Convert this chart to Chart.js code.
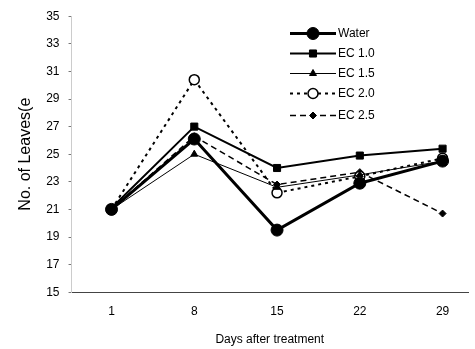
<!DOCTYPE html>
<html>
<head>
<meta charset="utf-8">
<script src="https://cdn.jsdelivr.net/npm/chart.js@4"></script>
<style>
  html, body { margin: 0; padding: 0; background: #fff; }
  #wrap { width: 475px; height: 349px; position: relative; }
</style>
</head>
<body>
<div id="wrap"><canvas id="leafChart"></canvas></div>
<script>
// Data
const days = [1, 8, 15, 22, 29];
const yTicks = [15, 17, 19, 21, 23, 25, 27, 29, 31, 33, 35];
const water = [21.0, 26.1, 19.5, 22.9, 24.5];
const ec10 = [21.1, 27.0, 24.0, 24.9, 25.4];
const ec15 = [21.0, 25.0, 22.6, 23.5, 24.5];
const ec20 = [21.0, 30.4, 22.2, 23.4, 24.7];
const ec25 = [21.0, 26.3, 22.8, 23.7, 20.7];

function toPoints(arr) {
  return arr.map((v, i) => ({ x: days[i], y: v }));
}

const datasets = [
  { label: "Water", data: toPoints(water), borderColor: "#000", backgroundColor: "#000",
    borderWidth: 3, pointStyle: "circle", pointRadius: 6, pointBorderWidth: 1 },
  { label: "EC 1.0", data: toPoints(ec10), borderColor: "#000", backgroundColor: "#000",
    borderWidth: 2, pointStyle: "rect", pointRadius: 5, pointBorderWidth: 1 },
  { label: "EC 1.5", data: toPoints(ec15), borderColor: "#000", backgroundColor: "#000",
    borderWidth: 1, pointStyle: "triangle", pointRadius: 4, pointBorderWidth: 1 },
  { label: "EC 2.0", data: toPoints(ec20), borderColor: "#000", backgroundColor: "#fff",
    borderWidth: 2, borderDash: [3, 4], pointStyle: "circle", pointRadius: 5, pointBorderWidth: 1.5 },
  { label: "EC 2.5", data: toPoints(ec25), borderColor: "#000", backgroundColor: "#000",
    borderWidth: 1.5, borderDash: [6, 4], pointStyle: "rectRot", pointRadius: 3.5, pointBorderWidth: 1 },
];

// legend drawn as line + marker samples, like the original figure
const lineLegend = {
  id: "lineLegend",
  afterDraw(chart) {
    const ctx = chart.ctx;
    const x0 = 290, x1 = 336, ys = [33, 53, 73, 93, 115];
    chart.data.datasets.forEach((ds, i) => {
      const y = ys[i] + 0.5;
      ctx.save();
      ctx.strokeStyle = "#000";
      ctx.lineWidth = ds.borderWidth;
      ctx.setLineDash(ds.borderDash || []);
      ctx.beginPath();
      ctx.moveTo(x0, y);
      ctx.lineTo(x1, y);
      ctx.stroke();
      ctx.setLineDash([]);
      ctx.fillStyle = ds.backgroundColor;
      ctx.lineWidth = ds.pointBorderWidth;
      Chart.helpers.drawPoint(ctx, {
        pointStyle: ds.pointStyle,
        radius: ds.pointRadius,
        borderWidth: ds.pointBorderWidth,
        rotation: 0,
      }, (x0 + x1) / 2, y);
      ctx.fillStyle = "#000";
      ctx.font = "12px 'Liberation Sans', Arial, sans-serif";
      ctx.textBaseline = "middle";
      ctx.fillText(ds.label, x1 + 2, y);
      ctx.restore();
    });
  },
};

const fontFam = "'Liberation Sans', Arial, sans-serif";

new Chart(document.getElementById("leafChart"), {
  type: "line",
  data: { datasets: datasets },
  options: {
    responsive: true,
    maintainAspectRatio: false,
    animation: false,
    layout: { padding: { top: 11, right: 0, left: 12, bottom: 2 } },
    plugins: { legend: { display: false }, tooltip: { enabled: false } },
    scales: {
      x: {
        type: "linear",
        min: -2.38,
        max: 31.15,
        afterBuildTicks: (axis) => { axis.ticks = days.map((d) => ({ value: d })); },
        grid: { display: false, drawTicks: false },
        border: { color: "#444", width: 1, dash: [14, 4] },
        ticks: { color: "#000", padding: 12, font: { family: fontFam, size: 12 } },
        title: { display: true, text: "Days after treatment", color: "#000",
          font: { family: fontFam, size: 12 }, padding: { top: 2, bottom: 0 } },
      },
      y: {
        min: 15,
        max: 35,
        afterBuildTicks: (axis) => { axis.ticks = yTicks.map((v) => ({ value: v })); },
        grid: { drawOnChartArea: false, tickLength: 3, color: "#777" },
        border: { color: "#ccc", width: 1, dash: [2, 3] },
        ticks: { color: "#000", padding: 9, font: { family: fontFam, size: 12 } },
        title: { display: true, text: "No. of Leaves(e", color: "#000",
          font: { family: fontFam, size: 16 }, padding: { bottom: 2 } },
      },
    },
  },
  plugins: [lineLegend],
});
</script>
</body>
</html>
